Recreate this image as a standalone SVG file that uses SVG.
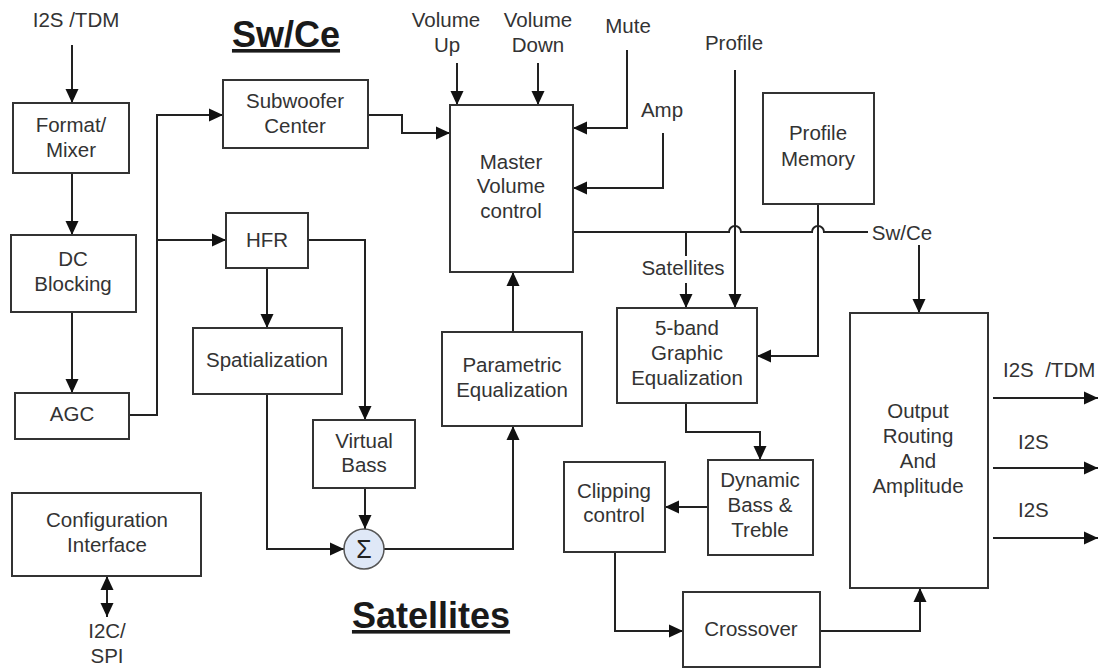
<svg xmlns="http://www.w3.org/2000/svg" width="1100" height="669" viewBox="0 0 1100 669">
  <style>
    .box { fill: #ffffff; stroke: #333333; stroke-width: 2; }
    .lbl { font-family: "Liberation Sans", Arial, sans-serif; font-size: 20.5px; fill: #333333; text-anchor: middle; }
    .head { font-family: "Liberation Sans", Arial, sans-serif; font-size: 36px; font-weight: bold; fill: #1a1a1a; text-anchor: middle; text-decoration: underline; }
    .wire { fill: none; stroke: #222222; stroke-width: 2; }
    .arr { marker-end: url(#ah); }
  </style>
  <defs>
    <marker id="ah" viewBox="0 0 14 14" refX="14" refY="7" markerWidth="14" markerHeight="14" markerUnits="userSpaceOnUse" orient="auto">
      <path d="M0,0.5 L14,7 L0,13.5 Z" fill="#111111"/>
    </marker>
    <marker id="ahs" viewBox="0 0 14 14" refX="14" refY="7" markerWidth="14" markerHeight="14" markerUnits="userSpaceOnUse" orient="auto-start-reverse">
      <path d="M0,0.5 L14,7 L0,13.5 Z" fill="#111111"/>
    </marker>
  </defs>
  <rect width="1100" height="669" fill="#ffffff"/>

  <!-- section headings -->
  <text class="head" x="286" y="47">Sw/Ce</text>
  <text class="head" x="431" y="628">Satellites</text>

  <!-- free-standing signal labels -->
  <g id="labels">
    <text class="lbl" x="76" y="27">I2S /TDM</text>
    <text class="lbl" x="446" y="27">Volume</text>
    <text class="lbl" x="447" y="52">Up</text>
    <text class="lbl" x="538" y="27">Volume</text>
    <text class="lbl" x="538" y="52">Down</text>
    <text class="lbl" x="628" y="33">Mute</text>
    <text class="lbl" x="662" y="117">Amp</text>
    <text class="lbl" x="734" y="50">Profile</text>
    <text class="lbl" x="683" y="275">Satellites</text>
    <text class="lbl" x="902" y="240">Sw/Ce</text>
    <text class="lbl" x="1003" y="377" style="text-anchor:start" xml:space="preserve">I2S  /TDM</text>
    <text class="lbl" x="1018" y="449" style="text-anchor:start">I2S</text>
    <text class="lbl" x="1018" y="517" style="text-anchor:start">I2S</text>
    <text class="lbl" x="107" y="638">I2C/</text>
    <text class="lbl" x="107" y="663">SPI</text>
  </g>

  <!-- connectors -->
  <g id="connectors">
    <path class="wire arr" d="M72,45 V103"/>
    <path class="wire arr" d="M72,173 V235"/>
    <path class="wire arr" d="M72,312 V393"/>
    <path class="wire arr" d="M129,415 H157 V115 H223"/>
    <path class="wire arr" d="M157,240 H226"/>
    <path class="wire arr" d="M267,268 V328"/>
    <path class="wire arr" d="M308,240 H365 V420"/>
    <path class="wire arr" d="M267,394 V549 H344"/>
    <path class="wire arr" d="M365,488 V529"/>
    <path class="wire arr" d="M384,549 H513 V426"/>
    <path class="wire arr" d="M513,332 V272"/>
    <path class="wire arr" d="M368,115 H402 V133 H450"/>
    <path class="wire arr" d="M457,63 V105"/>
    <path class="wire arr" d="M538,63 V105"/>
    <path class="wire arr" d="M627,50 V128 H573"/>
    <path class="wire arr" d="M663,133 V188 H573"/>
    <!-- master bus with hops over the profile lines -->
    <path class="wire" d="M573,232 H729 A6,6 0 0 1 741,232 H812 A6,6 0 0 1 824,232 H868"/>
    <!-- satellites branch, broken around its label -->
    <path class="wire" d="M686,232 V256"/>
    <path class="wire arr" d="M686,283 V308"/>
    <path class="wire arr" d="M735,70 V308"/>
    <path class="wire arr" d="M818,204 V356 H757"/>
    <path class="wire arr" d="M919,245 V313"/>
    <path class="wire arr" d="M686,403 V432 H760 V460"/>
    <path class="wire arr" d="M708,507 H665"/>
    <path class="wire arr" d="M615,552 V631 H683"/>
    <path class="wire arr" d="M820,631 H920 V588"/>
    <path class="wire arr" d="M993,398 H1098"/>
    <path class="wire arr" d="M993,468 H1098"/>
    <path class="wire arr" d="M993,538 H1098"/>
    <path class="wire" d="M107,576 V617" marker-start="url(#ahs)" marker-end="url(#ah)"/>
  </g>

  <!-- blocks -->
  <g id="format-mixer">
    <rect class="box" x="13" y="103" width="116" height="70"/>
    <text class="lbl" x="71" y="132">Format/</text>
    <text class="lbl" x="71" y="157">Mixer</text>
  </g>
  <g id="dc-blocking">
    <rect class="box" x="11" y="235" width="125" height="77"/>
    <text class="lbl" x="73" y="266">DC</text>
    <text class="lbl" x="73" y="291">Blocking</text>
  </g>
  <g id="agc">
    <rect class="box" x="15" y="393" width="114" height="46"/>
    <text class="lbl" x="72" y="421">AGC</text>
  </g>
  <g id="subwoofer-center">
    <rect class="box" x="223" y="80" width="145" height="68"/>
    <text class="lbl" x="295" y="108">Subwoofer</text>
    <text class="lbl" x="295" y="133">Center</text>
  </g>
  <g id="hfr">
    <rect class="box" x="226" y="213" width="82" height="55"/>
    <text class="lbl" x="267" y="247">HFR</text>
  </g>
  <g id="spatialization">
    <rect class="box" x="193" y="328" width="149" height="66"/>
    <text class="lbl" x="267" y="367">Spatialization</text>
  </g>
  <g id="virtual-bass">
    <rect class="box" x="313" y="420" width="102" height="68"/>
    <text class="lbl" x="364" y="448">Virtual</text>
    <text class="lbl" x="364" y="472">Bass</text>
  </g>
  <g id="summer">
    <circle cx="364" cy="549" r="20" fill="#dfe8f7" stroke="#555555" stroke-width="1.5"/>
    <text class="lbl" x="364" y="558" style="font-size:25px;fill:#222222">Σ</text>
  </g>
  <g id="parametric-eq">
    <rect class="box" x="442" y="332" width="140" height="94"/>
    <text class="lbl" x="512" y="372">Parametric</text>
    <text class="lbl" x="512" y="397">Equalization</text>
  </g>
  <g id="master-volume">
    <rect class="box" x="450" y="105" width="123" height="167"/>
    <text class="lbl" x="511" y="169">Master</text>
    <text class="lbl" x="511" y="193">Volume</text>
    <text class="lbl" x="511" y="218">control</text>
  </g>
  <g id="profile-memory">
    <rect class="box" x="763" y="93" width="111" height="111"/>
    <text class="lbl" x="818" y="140">Profile</text>
    <text class="lbl" x="818" y="166">Memory</text>
  </g>
  <g id="graphic-eq">
    <rect class="box" x="617" y="308" width="140" height="95"/>
    <text class="lbl" x="687" y="335">5-band</text>
    <text class="lbl" x="687" y="360">Graphic</text>
    <text class="lbl" x="687" y="385">Equalization</text>
  </g>
  <g id="dynamic-bass-treble">
    <rect class="box" x="708" y="460" width="105" height="95"/>
    <text class="lbl" x="760" y="487">Dynamic</text>
    <text class="lbl" x="760" y="512">Bass &amp;</text>
    <text class="lbl" x="760" y="537">Treble</text>
  </g>
  <g id="clipping-control">
    <rect class="box" x="564" y="462" width="101" height="90"/>
    <text class="lbl" x="614" y="498">Clipping</text>
    <text class="lbl" x="614" y="522">control</text>
  </g>
  <g id="crossover">
    <rect class="box" x="683" y="592" width="137" height="75"/>
    <text class="lbl" x="751" y="636">Crossover</text>
  </g>
  <g id="output-routing">
    <rect class="box" x="850" y="313" width="138" height="275"/>
    <text class="lbl" x="918" y="418">Output</text>
    <text class="lbl" x="918" y="443">Routing</text>
    <text class="lbl" x="918" y="468">And</text>
    <text class="lbl" x="918" y="493">Amplitude</text>
  </g>
  <g id="configuration-interface">
    <rect class="box" x="12" y="493" width="189" height="83"/>
    <text class="lbl" x="107" y="527">Configuration</text>
    <text class="lbl" x="107" y="552">Interface</text>
  </g>
</svg>
